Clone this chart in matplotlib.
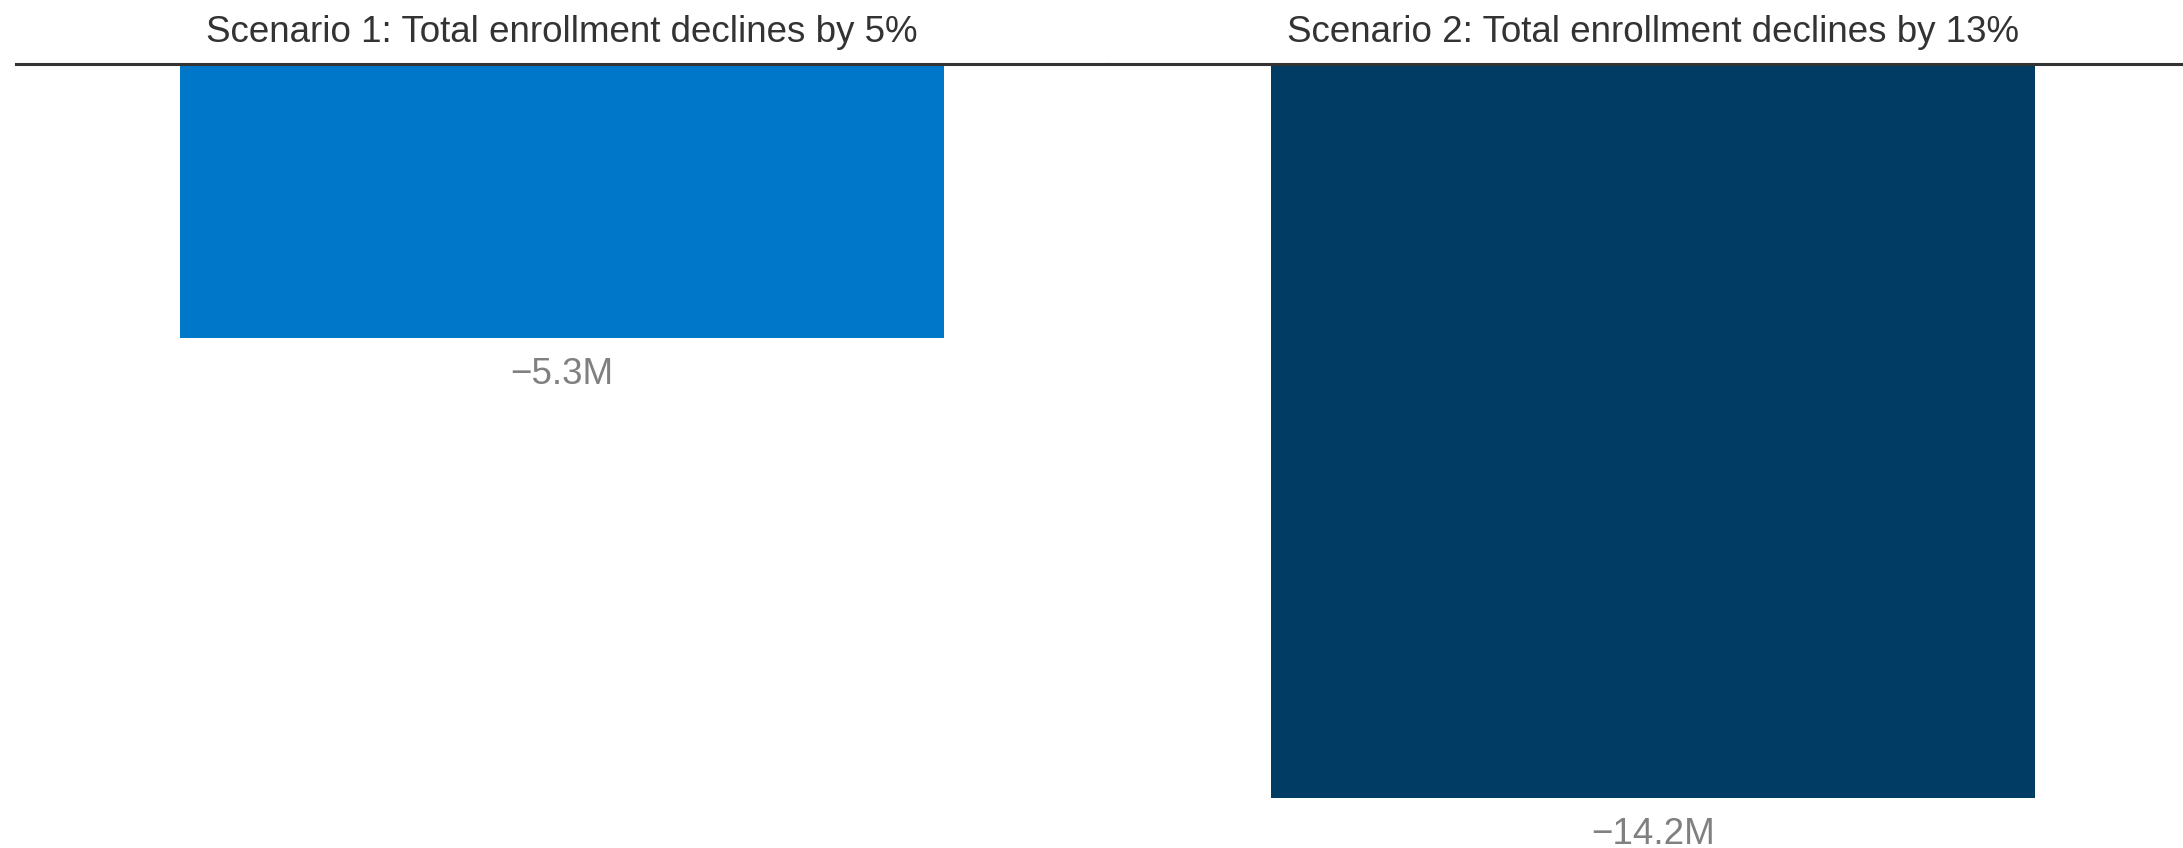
import matplotlib.pyplot as plt

plt.rcParams['font.family'] = ['Liberation Sans', 'DejaVu Sans']

# data
scenarios = ['Scenario 1: Total enrollment declines by 5%',
             'Scenario 2: Total enrollment declines by 13%']
changes = [-5.3, -14.2]   # millions
bar_colors = ['#0077c8', '#003c64']

W, H = 2183, 848
fig = plt.figure(figsize=(W / 100, H / 100), dpi=100)

# facet layout in pixels
top_px = 64
left_px = [16, 1107]
ax_w = 1092
y_bottom = -15.17  # axis runs down to figure bottom

for i in range(len(scenarios)):
    ax = fig.add_axes([left_px[i] / W, 0, ax_w / W, (H - top_px) / H])
    ax.bar(0, changes[i], width=0.7, color=bar_colors[i])
    ax.set_xlim(-0.5, 0.5)
    ax.set_ylim(y_bottom, 0)
    for s in ['left', 'right', 'bottom']:
        ax.spines[s].set_visible(False)
    ax.spines['top'].set_color('#333333')
    ax.spines['top'].set_linewidth(2.2)
    ax.set_xticks([])
    ax.set_yticks([])
    ax.set_title(scenarios[i], fontsize=26.5, color='#333333', pad=16)
    ax.annotate(f'\u2212{abs(changes[i]):.1f}M', xy=(0, changes[i]),
                xytext=(0, -26.5), textcoords='offset points',
                ha='center', va='center', fontsize=26.5, color='#808080')

plt.savefig('out.png', dpi=100)
